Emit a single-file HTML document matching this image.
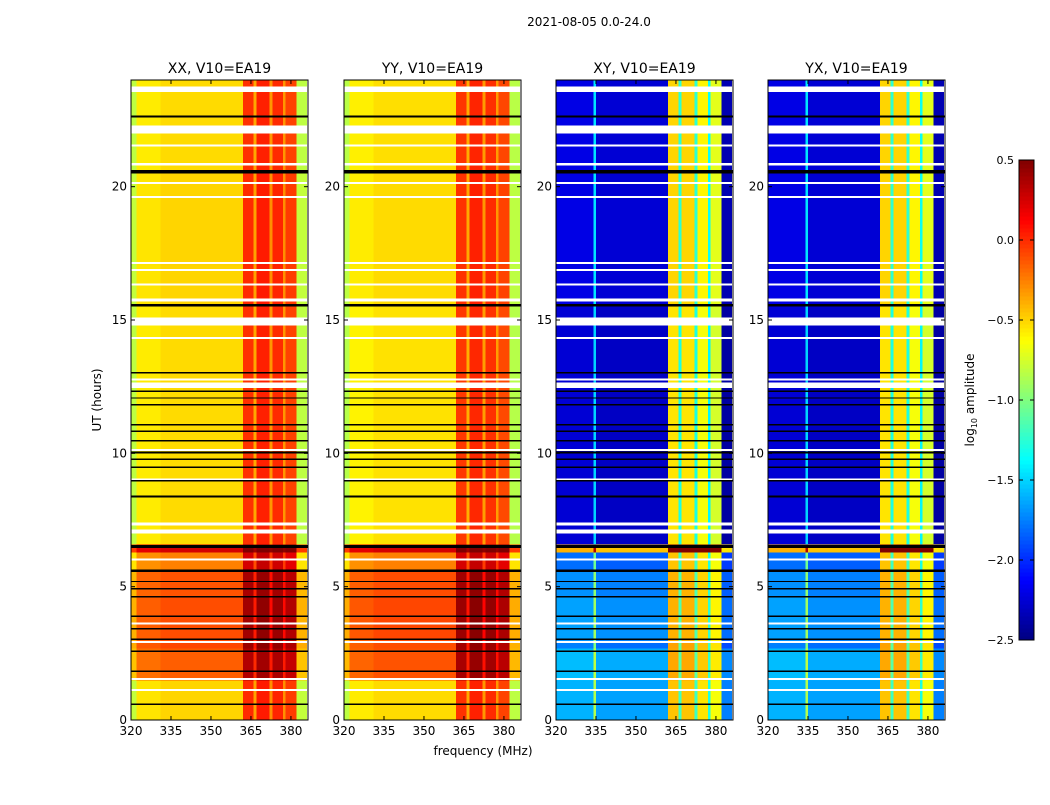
<!DOCTYPE html>
<html><head><meta charset="utf-8"><style>
body{margin:0;background:#fff;font-family:"Liberation Sans","DejaVu Sans",sans-serif;}
svg text{font-family:"DejaVu Sans","Liberation Sans",sans-serif;}
</style></head><body>
<svg id="fig" width="1050" height="800" xmlns="http://www.w3.org/2000/svg">
<rect width="1050" height="800" fill="#fff"/>
<text x="589" y="26" font-size="12" text-anchor="middle">2021-08-05 0.0-24.0</text>
<text x="483" y="755" font-size="12" text-anchor="middle">frequency (MHz)</text>
<text transform="translate(101,400) rotate(-90)" font-size="12" text-anchor="middle">UT (hours)</text>
<text transform="translate(974,400) rotate(-90)" font-size="12" text-anchor="middle">log<tspan font-size="8" dy="3">10</tspan><tspan dy="-3"> amplitude</tspan></text>
<g id="panels"></g>
<g id="cbar"></g>
</svg>
<script>
const panelTitles=["XX, V10=EA19","YY, V10=EA19","XY, V10=EA19","YX, V10=EA19"];
const xTicks=[320,335,350,365,380];
const yTicks=[0,5,10,15,20];
const cbTicks=[0.5,0.0,-0.5,-1.0,-1.5,-2.0,-2.5];
// time segments (start hour) and log amplitude level per polarization
const segStart=[0,1.5,2.7,3.0,4.6,5.6,6.3,6.6,15.5,20.5];
const levelXX=[-0.5,-0.15,-0.08,-0.1,-0.12,-0.25,0.25,-0.52,-0.5,-0.52];
const levelYY=[-0.52,-0.12,-0.1,-0.08,-0.1,-0.25,0.25,-0.54,-0.52,-0.53];
const levelXY=[-1.65,-1.62,-1.8,-1.7,-1.75,-1.85,-0.45,-2.3,-2.25,-2.25];
const levelYX=[-1.65,-1.62,-1.8,-1.7,-1.75,-1.85,-0.45,-2.3,-2.25,-2.25];
// extra band adjustment per time segment (applied to 362-382 MHz channels)
const bandAdjPar=[0,0,0,0,0,0,0,0,0,0];
const bandAdjCross=[-0.55,-0.5,-0.3,-0.45,-0.4,-0.35,0.3,0,0,0];
// frequency bands: start, end, offset
const bandStart=[320,322,331,334,335,362,366,367,372,373,377,378,382];
const bandEnd  =[322,331,334,335,362,366,367,372,373,377,378,382,386];
const offPar   =[-0.3,-0.05,0,0,0,0.5,0.15,0.55,0.2,0.52,0.2,0.45,-0.3];
const offCross =[0.05,0.05,0.05,0.8,0,1.75,1.0,1.75,1.0,1.65,0.9,1.55,-0.1];
// flagged rows (hours, width)
const whiteRows=[[23.55,0.2],[22.0,0.3],[21.5,0.08],[20.8,0.08],[20.1,0.08],[19.6,0.05],[17.1,0.08],[16.85,0.06],[16.3,0.06],[15.7,0.1],[14.8,0.3],[14.3,0.06],[12.45,0.2],[12.75,0.06],[10.1,0.06],[9.0,0.06],[7.3,0.1],[7.0,0.15],[6.0,0.06],[3.6,0.06],[2.9,0.06],[1.5,0.08],[1.1,0.06]];
const blackRows=[[22.6,0.06],[20.5,0.12],[15.5,0.1],[13.0,0.05],[12.3,0.05],[12.05,0.05],[11.8,0.05],[11.05,0.05],[10.8,0.05],[10.45,0.05],[10.0,0.06],[9.75,0.05],[9.45,0.05],[8.95,0.05],[8.35,0.06],[6.45,0.12],[5.55,0.1],[5.17,0.05],[4.9,0.05],[4.6,0.05],[3.86,0.05],[3.4,0.05],[3.0,0.05],[2.55,0.05],[1.8,0.05],[0.56,0.05]];

const panelX=[131,344,556,768], PW=177, PT=80, PB=720;
const fMin=320,fMax=386.4,tMax=24;
function jet(v){v=Math.max(0,Math.min(1,v));
 const r=Math.max(0,Math.min(1,1.5-Math.abs(4*v-3))),g=Math.max(0,Math.min(1,1.5-Math.abs(4*v-2))),b=Math.max(0,Math.min(1,1.5-Math.abs(4*v-1)));
 return `rgb(${Math.round(r*255)},${Math.round(g*255)},${Math.round(b*255)})`;}
function col(val){return jet((val+2.5)/3);}
const NS="http://www.w3.org/2000/svg";
function mk(tag,attrs,parent){const e=document.createElementNS(NS,tag);for(const k in attrs)e.setAttribute(k,attrs[k]);parent.appendChild(e);return e;}
const levels=[levelXX,levelYY,levelXY,levelYX];
const offs=[offPar,offPar,offCross,offCross];
const adjs=[bandAdjPar,bandAdjPar,bandAdjCross,bandAdjCross];
const root=document.getElementById('panels');
panelTitles.forEach((title,p)=>{
 const x0=panelX[p];
 const xs=f=>x0+(f-fMin)/(fMax-fMin)*PW;
 const ys=h=>PB-h/tMax*(PB-PT);
 const g=mk('g',{},root);
 
 
 const hm=mk('g',{'shape-rendering':'crispEdges'},g);
 
 
 for(let s=0;s<segStart.length;s++){
  const h0=segStart[s],h1=s+1<segStart.length?segStart[s+1]:tMax;
  for(let b=0;b<bandStart.length;b++){
   const x1=xs(bandStart[b]),x2=xs(Math.min(bandEnd[b],fMax));
   const inBand=bandStart[b]>=362&&bandEnd[b]<=382;
   const v=levels[p][s]+offs[p][b]+(inBand?adjs[p][s]:0);
   const r=mk('rect',{x:x1,y:ys(h1),width:x2-x1+0.3,height:ys(h0)-ys(h1)+0.3,fill:col(v)},hm);
   
   
  }
 }
 whiteRows.forEach(w=>{const r=mk('rect',{x:x0,y:ys(w[0]+w[1]),width:PW,height:Math.max(2,ys(w[0])-ys(w[0]+w[1])),fill:'#fff'},hm);
  
  });
 blackRows.forEach(w=>{const r=mk('rect',{x:x0,y:ys(w[0]+w[1]),width:PW,height:Math.max(1.2,ys(w[0])-ys(w[0]+w[1])),fill:'#000'},hm);
  
  });
 const fr=mk('rect',{x:x0,y:PT,width:PW,height:PB-PT,fill:'none',stroke:'#000','stroke-width':1},g);
 
 
 const t=mk('text',{x:x0+PW/2,y:73,'font-size':14,'text-anchor':'middle'},g);t.textContent=title;
 
 
 xTicks.forEach(f=>{const X=xs(f);
  mk('line',{x1:X,x2:X,y1:PB,y2:PB-4,stroke:'#000'},g);mk('line',{x1:X,x2:X,y1:PT,y2:PT+4,stroke:'#000'},g);
  const l=mk('text',{x:X,y:PB+15,'font-size':12,'text-anchor':'middle'},g);l.textContent=f;
  
  });
 yTicks.forEach(h=>{const Y=ys(h);
  mk('line',{x1:x0,x2:x0+4,y1:Y,y2:Y,stroke:'#000'},g);mk('line',{x1:x0+PW,x2:x0+PW-4,y1:Y,y2:Y,stroke:'#000'},g);
  const l=mk('text',{x:x0-4,y:Y+4,'font-size':12,'text-anchor':'end'},g);l.textContent=h;
  
  });
});
// colorbar
const cb=document.getElementById('cbar');
const CX=1019,CW=15,CT=160,CB=640;
for(let i=0;i<120;i++){const v0=-2.5+i*3/120;const y=CB-(i+1)*(CB-CT)/120;
 mk('rect',{x:CX,y:y,width:CW,height:(CB-CT)/120+0.5,fill:col(v0+1.5/120)},cb);}
mk('rect',{x:CX,y:CT,width:CW,height:CB-CT,fill:'none',stroke:'#000'},cb);
cbTicks.forEach(v=>{const y=CB-(v+2.5)/3*(CB-CT);
 mk('line',{x1:CX,x2:CX+4,y1:y,y2:y,stroke:'#000'},cb);mk('line',{x1:CX+CW,x2:CX+CW-4,y1:y,y2:y,stroke:'#000'},cb);
 const l=mk('text',{x:CX-5,y:y+4,'font-size':11,'text-anchor':'end'},cb);l.textContent=v.toFixed(1).replace('-','\u2212');
 
 });
</script>
</body></html>
